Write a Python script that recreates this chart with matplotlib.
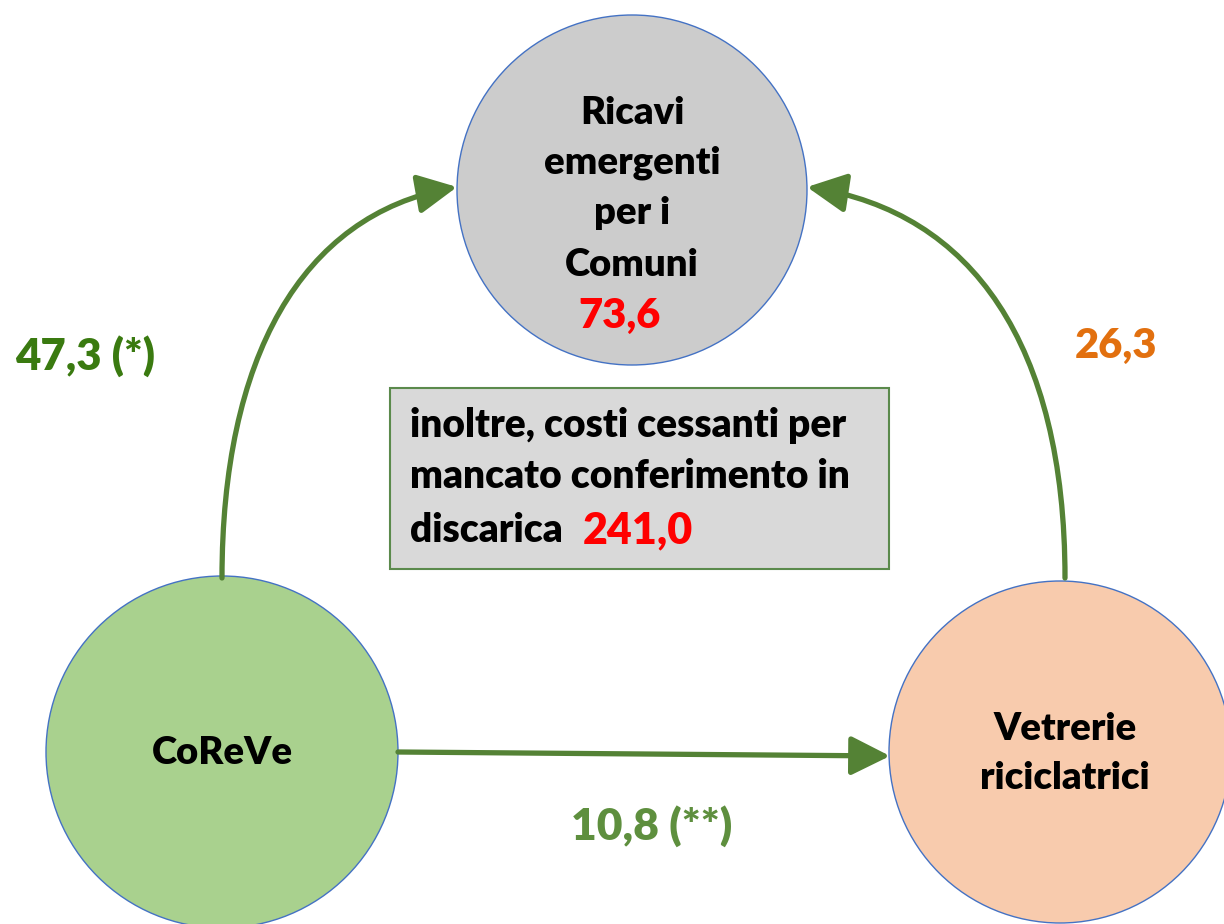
import matplotlib
matplotlib.use("Agg")
import matplotlib.pyplot as plt
from matplotlib.patches import Circle, Rectangle, FancyArrowPatch
from matplotlib.path import Path

plt.rcParams['font.family'] = ['Lato', 'DejaVu Sans']

# --- data ---
node_labels = ["Ricavi\nemergenti\nper i\nComuni", "CoReVe", "Vetrerie\nriciclatrici"]
node_colors = ["#cccccc", "#a9d18e", "#f8cbad"]
ricavi_comuni = "73,6"
flow_labels = ["47,3 (*)", "26,3", "10,8 (**)"]
flow_colors = ["#3a7a10", "#e2700f", "#5e8f3e"]
box_text = "inoltre, costi cessanti per\nmancato conferimento in\ndiscarica"
box_value = "241,0"

W = 'heavy'
FS = 27.5

fig = plt.figure(figsize=(12.24, 9.24), dpi=100)
ax = fig.add_axes([0, 0, 1, 1])
ax.set_xlim(0, 1224)
ax.set_ylim(924, 0)
ax.axis('off')

edge = "#4472c4"
centers = [(632, 190), (222, 752), (1060, 752)]
radii = [175, 176, 171]
for (cx, cy), r, c in zip(centers, radii, node_colors):
    ax.add_patch(Circle((cx, cy), r, facecolor=c, edgecolor=edge, lw=1.0, zorder=1))

arrow_color = "#548235"
astyle = "-|>,head_length=24,head_width=12"

def bez(p0, p1, p2, p3):
    return Path([p0, p1, p2, p3], [Path.MOVETO, Path.CURVE4, Path.CURVE4, Path.CURVE4])

arrows = [
    bez((222, 578), (222, 360), (300, 215), (457, 187)),
    bez((1065, 578), (1065, 345), (972, 212), (807, 187)),
]
for p in arrows:
    ax.add_patch(FancyArrowPatch(path=p, arrowstyle=astyle, mutation_scale=1,
                                 color=arrow_color, lw=3.8, zorder=3,
                                 shrinkA=0, shrinkB=0))
ax.add_patch(FancyArrowPatch((398, 752), (890, 756), arrowstyle=astyle, mutation_scale=1,
                             color=arrow_color, lw=3.8, zorder=3, shrinkA=0, shrinkB=0))

# node texts
for s, y in zip(node_labels[0].split("\n"), [113, 163, 213, 265]):
    ax.text(632, y, s, ha='center', va='center', fontsize=FS, fontweight=W, zorder=4)
ax.text(620, 316, ricavi_comuni, ha='center', va='center', fontsize=30,
        fontweight=W, color='#ff0000', zorder=4)
ax.text(222, 753, node_labels[1], ha='center', va='center', fontsize=FS,
        fontweight=W, zorder=4)
for s, y in zip(node_labels[2].split("\n"), [729, 778]):
    ax.text(1065, y, s, ha='center', va='center', fontsize=FS, fontweight=W, zorder=4)

# flow labels
ax.text(15, 356, flow_labels[0], ha='left', va='center', fontsize=31.5,
        fontweight=W, color=flow_colors[0])
ax.text(1116, 346, flow_labels[1], ha='center', va='center', fontsize=30,
        fontweight=W, color=flow_colors[1])
ax.text(652, 826, flow_labels[2], ha='center', va='center', fontsize=32,
        fontweight=W, color=flow_colors[2])

# box
ax.add_patch(Rectangle((390, 388), 499, 181, facecolor="#d9d9d9",
                       edgecolor="#5b8a4c", lw=1.5, zorder=2))
for s, y in zip(box_text.split("\n"), [426, 476, 530]):
    ax.text(410, y, s, ha='left', va='center', fontsize=28, fontweight=W, zorder=4)
ax.text(583, 530, box_value, ha='left', va='center', fontsize=31,
        fontweight=W, color='#ff0000', zorder=4)

fig.savefig("out.png", dpi=100)
